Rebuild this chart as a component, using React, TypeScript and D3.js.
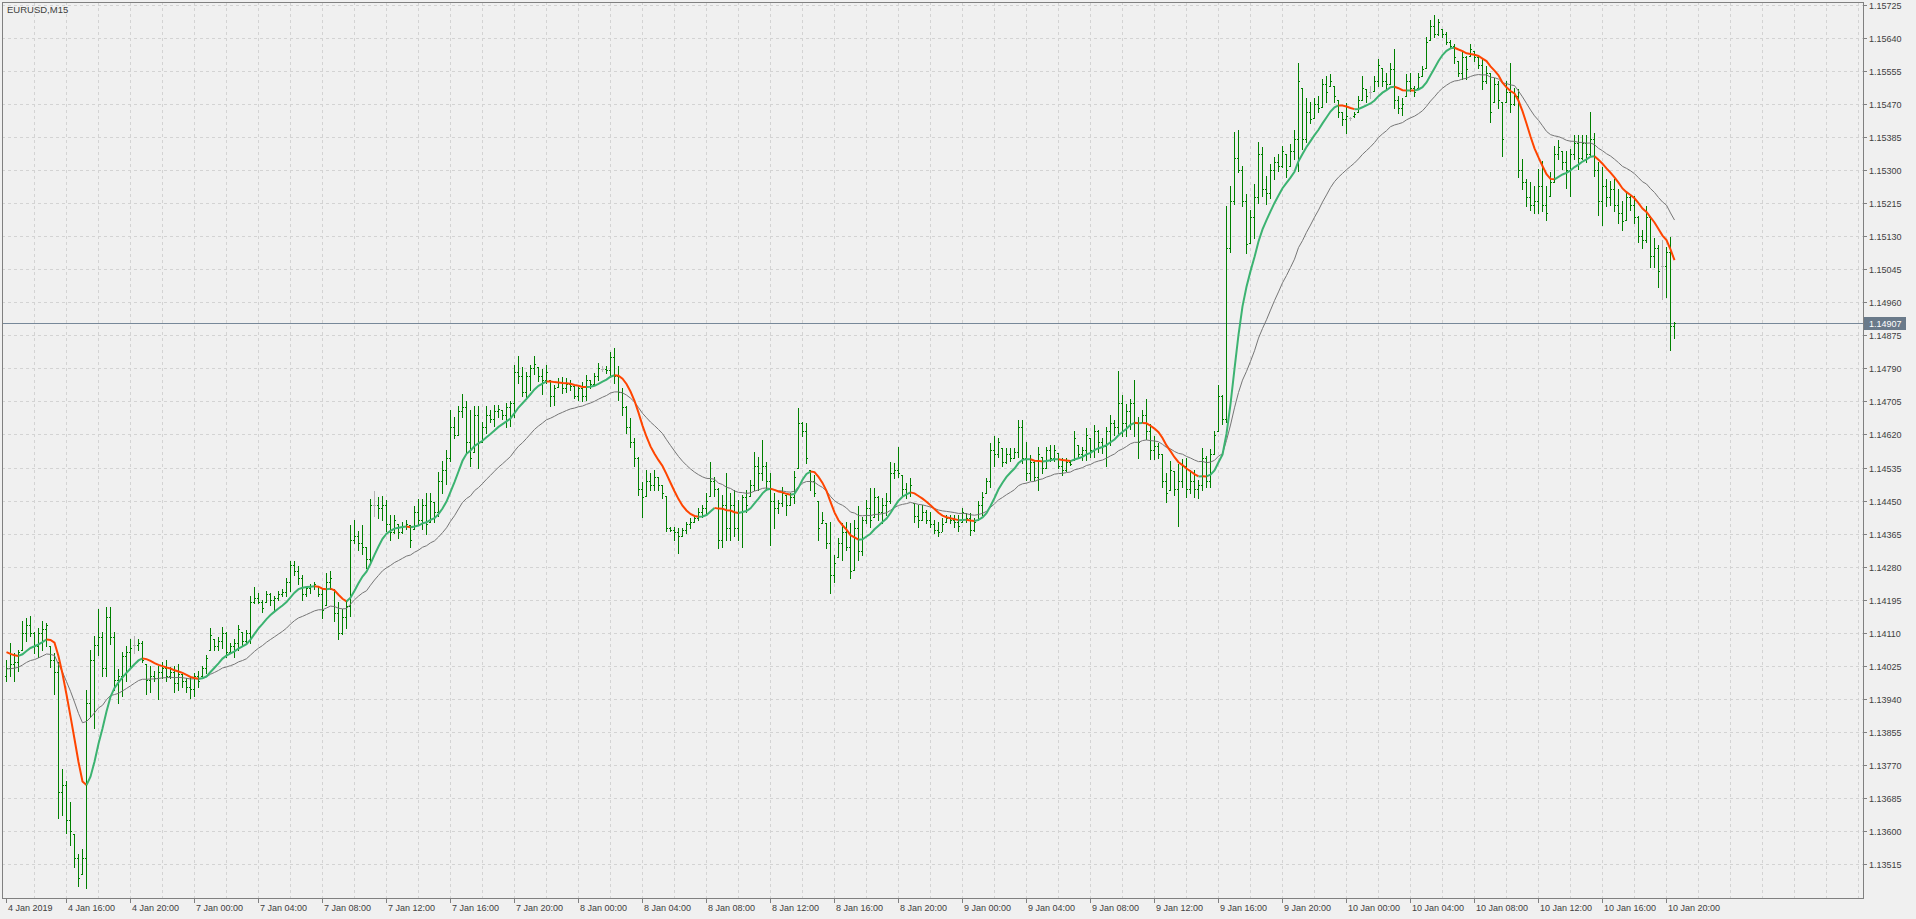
import React from 'react';
import * as d3 from 'd3';

const symbolTitle = 'EURUSD,M15';

// prices kept as 1e-5 steps above 1.00000 (14039 -> 1.14039), one entry per M15 bar
const opens = [
  14000,14020,14030,14035,14067,14110,14130,14110,14075,14110,
  14120,14076,14040,14010,13700,13720,13630,13592,13530,13491,
  13530,13930,14040,14080,14100,14020,14150,14100,13990,14000,
  14050,14060,14080,14080,14085,14030,13990,14000,13995,14010,
  14020,14000,14010,13980,14003,13985,13970,13965,14000,13998,
  14020,14067,14094,14075,14090,14110,14060,14075,14085,14113,
  14090,14110,14190,14200,14190,14190,14210,14195,14200,14210,
  14215,14240,14285,14270,14250,14210,14225,14230,14231,14210,
  14181,14240,14222,14160,14110,14150,14180,14350,14360,14340,
  14330,14300,14440,14440,14430,14440,14390,14370,14391,14370,
  14385,14387,14378,14420,14400,14440,14396,14446,14420,14500,
  14530,14560,14640,14620,14680,14690,14600,14574,14670,14602,
  14640,14670,14660,14680,14684,14670,14690,14700,14780,14770,
  14730,14770,14790,14793,14770,14760,14761,14720,14743,14755,
  14740,14750,14745,14720,14740,14720,14760,14750,14770,14788,
  14788,14785,14820,14770,14730,14690,14640,14600,14560,14480,
  14461,14500,14490,14510,14490,14461,14380,14375,14370,14360,
  14375,14390,14396,14405,14420,14430,14461,14500,14480,14350,
  14440,14380,14440,14380,14420,14460,14461,14490,14540,14520,
  14540,14500,14450,14430,14445,14465,14440,14460,14533,14650,
  14630,14529,14500,14448,14392,14392,14340,14260,14306,14340,
  14370,14330,14272,14380,14320,14400,14430,14409,14460,14420,
  14440,14450,14520,14530,14516,14480,14470,14443,14410,14400,
  14420,14400,14390,14375,14370,14396,14405,14400,14395,14396,
  14418,14405,14375,14401,14440,14469,14500,14580,14570,14585,
  14550,14570,14560,14575,14640,14560,14520,14550,14510,14563,
  14535,14580,14560,14572,14540,14530,14550,14555,14593,14570,
  14580,14610,14580,14630,14600,14590,14630,14650,14640,14700,
  14650,14680,14700,14650,14651,14670,14630,14580,14590,14569,
  14500,14478,14525,14480,14500,14540,14480,14500,14480,14490,
  14560,14500,14570,14630,14720,14660,15100,15220,15330,15300,
  15220,15112,15180,15230,15340,15250,15240,15300,15320,15310,
  15342,15311,15350,15380,15511,15380,15450,15433,15470,15463,
  15520,15516,15516,15481,15450,15430,15433,15440,15450,15481,
  15507,15500,15502,15530,15563,15530,15520,15560,15480,15460,
  15489,15530,15510,15511,15542,15563,15633,15670,15650,15663,
  15650,15630,15620,15581,15550,15590,15594,15607,15590,15570,
  15530,15550,15476,15520,15476,15476,15500,15470,15490,15300,
  15270,15230,15210,15220,15260,15210,15233,15270,15340,15350,
  15320,15300,15340,15370,15330,15370,15340,15380,15300,15220,
  15260,15230,15250,15210,15190,15172,15230,15210,15180,15130,
  15120,15180,15080,15100,15052,15052,15090,14900,
];
const highs = [
  14039,14085,14058,14067,14140,14149,14154,14113,14122,14140,
  14135,14076,14058,14035,13761,13729,13674,13592,13541,13555,
  13962,14067,14103,14172,14113,14177,14177,14113,14017,14062,
  14076,14094,14103,14094,14090,14030,14026,14012,14026,14035,
  14039,14021,14026,14030,14003,13994,13994,14007,14012,14026,
  14053,14122,14094,14099,14126,14113,14085,14094,14131,14113,
  14117,14204,14227,14213,14195,14218,14213,14204,14218,14222,
  14250,14295,14295,14282,14259,14231,14236,14240,14231,14222,
  14263,14268,14222,14190,14172,14195,14387,14400,14373,14387,
  14332,14455,14474,14460,14462,14451,14414,14414,14391,14396,
  14400,14387,14437,14455,14455,14469,14469,14446,14524,14551,
  14579,14684,14665,14693,14725,14707,14684,14693,14693,14652,
  14693,14684,14697,14697,14684,14702,14707,14798,14821,14793,
  14780,14798,14821,14793,14789,14798,14761,14748,14766,14769,
  14765,14760,14748,14748,14756,14773,14760,14778,14803,14795,
  14795,14833,14842,14795,14739,14692,14662,14610,14563,14499,
  14529,14520,14529,14512,14491,14461,14383,14383,14379,14379,
  14396,14405,14413,14431,14439,14469,14550,14512,14482,14465,
  14521,14469,14478,14452,14465,14478,14503,14576,14563,14606,
  14550,14521,14469,14452,14486,14465,14469,14525,14688,14653,
  14649,14529,14516,14448,14422,14392,14396,14311,14353,14392,
  14396,14392,14401,14435,14409,14452,14482,14482,14461,14456,
  14469,14550,14546,14589,14516,14495,14508,14443,14439,14439,
  14426,14422,14401,14396,14405,14413,14413,14413,14413,14431,
  14418,14418,14405,14448,14473,14508,14598,14615,14610,14585,
  14585,14585,14585,14658,14658,14602,14568,14555,14589,14563,
  14589,14593,14593,14572,14559,14559,14555,14628,14593,14589,
  14636,14610,14645,14632,14610,14640,14670,14658,14782,14721,
  14699,14712,14760,14664,14682,14712,14647,14617,14599,14569,
  14521,14551,14525,14543,14556,14560,14530,14530,14504,14586,
  14564,14582,14630,14747,14721,15207,15259,15398,15403,15311,
  15238,15198,15264,15372,15359,15285,15316,15333,15342,15363,
  15342,15368,15403,15576,15511,15485,15476,15485,15489,15533,
  15542,15546,15516,15481,15450,15472,15437,15450,15489,15542,
  15507,15516,15542,15585,15563,15550,15576,15611,15489,15485,
  15546,15550,15516,15550,15568,15641,15685,15698,15689,15663,
  15654,15633,15624,15581,15607,15594,15624,15607,15594,15585,
  15568,15550,15537,15529,15476,15529,15576,15511,15507,15329,
  15277,15268,15259,15303,15324,15259,15294,15363,15377,15350,
  15350,15355,15390,15390,15390,15390,15450,15394,15320,15307,
  15277,15272,15277,15251,15220,15246,15238,15233,15181,15146,
  15207,15181,15125,15107,15120,15103,15129,14908,
];
const lows = [
  13985,13998,13985,14012,14067,14090,14103,14058,14049,14067,
  14076,14021,13953,13633,13642,13596,13564,13509,13459,13491,
  13454,13893,13866,14053,13998,13998,14081,13962,13930,13948,
  13985,14021,14058,14067,14035,13953,13957,13985,13939,13994,
  13985,13994,13957,13962,13971,13957,13943,13948,13971,13998,
  14007,14067,14067,14067,14071,14049,14058,14049,14067,14076,
  14085,14085,14186,14186,14163,14190,14181,14167,14195,14204,
  14204,14218,14259,14236,14195,14204,14213,14222,14204,14149,
  14181,14222,14140,14094,14108,14122,14154,14341,14323,14314,
  14277,14286,14410,14405,14400,14373,14350,14368,14355,14368,
  14378,14332,14378,14387,14378,14364,14396,14396,14410,14469,
  14492,14551,14611,14620,14665,14570,14538,14574,14533,14602,
  14624,14652,14643,14665,14661,14638,14643,14665,14752,14720,
  14716,14734,14775,14757,14725,14752,14693,14697,14743,14726,
  14730,14735,14713,14709,14705,14709,14739,14748,14760,14782,
  14778,14769,14752,14709,14670,14623,14589,14538,14465,14409,
  14461,14478,14478,14478,14456,14371,14371,14349,14315,14358,
  14366,14379,14396,14401,14409,14418,14461,14461,14328,14332,
  14349,14349,14358,14349,14332,14422,14461,14478,14478,14503,
  14478,14336,14379,14418,14435,14413,14439,14443,14533,14615,
  14546,14478,14461,14349,14392,14328,14212,14242,14306,14298,
  14323,14251,14272,14298,14311,14392,14383,14409,14401,14392,
  14413,14443,14508,14512,14461,14456,14461,14396,14383,14401,
  14392,14383,14366,14358,14371,14396,14392,14383,14371,14396,
  14396,14362,14371,14401,14413,14469,14486,14538,14563,14538,
  14546,14551,14559,14563,14546,14503,14503,14503,14478,14521,
  14533,14551,14551,14533,14516,14525,14542,14555,14559,14555,
  14555,14563,14563,14576,14572,14538,14593,14619,14619,14617,
  14617,14634,14617,14560,14651,14608,14556,14556,14560,14486,
  14447,14478,14464,14384,14486,14460,14469,14460,14456,14478,
  14486,14486,14569,14630,14647,14651,15090,15212,15294,15207,
  15086,15112,15125,15216,15233,15212,15229,15277,15298,15307,
  15281,15311,15329,15298,15355,15372,15420,15433,15450,15463,
  15476,15516,15476,15437,15416,15394,15429,15437,15450,15481,
  15476,15485,15502,15516,15516,15507,15520,15459,15446,15442,
  15489,15502,15489,15511,15542,15563,15633,15641,15646,15641,
  15624,15615,15576,15542,15533,15533,15594,15581,15563,15507,
  15524,15424,15476,15459,15337,15476,15450,15468,15281,15251,
  15207,15198,15190,15190,15194,15172,15233,15268,15329,15303,
  15255,15233,15329,15303,15329,15320,15337,15285,15185,15159,
  15207,15211,15194,15164,15146,15172,15198,15164,15116,15099,
  15116,15051,15051,14999,14968,14973,14838,14869,
];
const closes = [
  14020,14030,14035,14060,14110,14130,14110,14075,14110,14120,
  14130,14040,14010,13700,13720,13630,13600,13530,13480,13530,
  13930,14040,14080,14100,14020,14150,14100,13990,14000,14050,
  14060,14070,14080,14085,14040,13990,14000,13995,14010,14020,
  14000,14010,13980,14005,13985,13970,13965,14000,13985,14020,
  14045,14105,14075,14090,14110,14060,14075,14085,14120,14090,
  14110,14190,14200,14190,14175,14210,14195,14200,14210,14215,
  14240,14285,14270,14250,14210,14225,14230,14235,14210,14170,
  14240,14250,14160,14110,14150,14180,14350,14360,14340,14330,
  14300,14440,14440,14430,14440,14390,14370,14400,14370,14385,
  14390,14350,14420,14400,14440,14390,14450,14420,14500,14530,
  14560,14640,14620,14680,14690,14600,14560,14670,14600,14640,
  14670,14660,14680,14685,14670,14690,14700,14780,14770,14730,
  14770,14790,14800,14770,14760,14780,14720,14740,14755,14740,
  14750,14745,14720,14740,14720,14760,14750,14770,14790,14788,
  14785,14820,14770,14730,14690,14640,14600,14560,14480,14460,
  14500,14490,14510,14490,14470,14380,14375,14370,14360,14375,
  14390,14395,14405,14420,14430,14450,14500,14480,14350,14440,
  14380,14440,14380,14420,14460,14440,14490,14540,14520,14540,
  14500,14450,14430,14445,14470,14440,14460,14510,14650,14630,
  14560,14500,14470,14380,14400,14340,14260,14290,14340,14370,
  14330,14270,14380,14320,14400,14430,14400,14460,14420,14440,
  14450,14520,14530,14520,14480,14470,14490,14410,14400,14420,
  14400,14390,14375,14370,14390,14405,14400,14395,14385,14420,
  14405,14375,14395,14440,14460,14500,14580,14570,14600,14550,
  14570,14560,14575,14640,14560,14520,14550,14510,14570,14535,
  14580,14560,14580,14540,14530,14550,14545,14610,14570,14580,
  14620,14580,14630,14600,14590,14630,14650,14640,14700,14650,
  14680,14700,14650,14600,14670,14630,14580,14590,14570,14500,
  14470,14530,14480,14500,14540,14480,14500,14480,14490,14560,
  14500,14570,14620,14720,14660,15100,15220,15330,15300,15220,
  15110,15180,15230,15340,15250,15240,15300,15320,15310,15350,
  15300,15350,15380,15530,15380,15450,15430,15470,15460,15520,
  15500,15530,15490,15450,15430,15440,15433,15445,15480,15510,
  15490,15500,15530,15570,15530,15520,15560,15480,15460,15470,
  15530,15510,15500,15540,15560,15630,15670,15650,15680,15650,
  15630,15620,15590,15550,15590,15560,15610,15590,15570,15530,
  15550,15450,15520,15480,15380,15500,15470,15490,15300,15270,
  15230,15210,15220,15260,15210,15190,15270,15340,15360,15320,
  15300,15340,15370,15330,15370,15340,15380,15300,15220,15260,
  15230,15250,15210,15190,15170,15230,15210,15180,15130,15120,
  15180,15080,15100,15040,15052,15090,14900,14907,
];

const priceTicks = [
  1.15725, 1.1564, 1.15555, 1.1547, 1.15385, 1.153, 1.15215, 1.1513, 1.15045,
  1.1496, 1.14875, 1.1479, 1.14705, 1.1462, 1.14535, 1.1445, 1.14365, 1.1428,
  1.14195, 1.1411, 1.14025, 1.1394, 1.13855, 1.1377, 1.13685, 1.136, 1.13515,
];
const timeLabels = [
  '4 Jan 2019', '4 Jan 16:00', '4 Jan 20:00', '7 Jan 00:00', '7 Jan 04:00',
  '7 Jan 08:00', '7 Jan 12:00', '7 Jan 16:00', '7 Jan 20:00', '8 Jan 00:00',
  '8 Jan 04:00', '8 Jan 08:00', '8 Jan 12:00', '8 Jan 16:00', '8 Jan 20:00',
  '9 Jan 00:00', '9 Jan 04:00', '9 Jan 08:00', '9 Jan 12:00', '9 Jan 16:00',
  '9 Jan 20:00', '10 Jan 00:00', '10 Jan 04:00', '10 Jan 08:00', '10 Jan 12:00',
  '10 Jan 16:00', '10 Jan 20:00',
];
const timeLabelBars = [
  0, 15, 31, 47, 63, 79, 95, 111, 127, 143, 159, 175, 191, 207, 223, 239, 255,
  271, 287, 303, 319, 335, 351, 367, 383, 399, 415,
];
const lastPrice = 1.14907;
// indicator values at the first visible bar (history before it is off screen)
const fastStart = 1.14064;
const slowStart = 1.14017;

const W = 1916;
const H = 919;
const left = 2;
const top = 2;
const right = 1863;
const bottom = 898;

const FONT = "'Liberation Sans', Arial, sans-serif";

const toPrice = (v: number) => 1 + v / 100000;

function ema(src: number[], period: number, seed: number) {
  const k = 2 / (period + 1);
  let e = seed;
  return src.map((v) => (e = e + k * (v - e)));
}

export default function App() {
  const n = closes.length;
  const x = d3.scaleLinear().domain([0, n - 1]).range([6, 6 + 4 * (n - 1)]);
  const y = d3.scaleLinear().domain([1.15725, 1.13515]).range([4.7, 864.3]);
  const py = (p: number) => Math.round(y(p));

  const c = closes.map(toPrice);
  const fast = ema(ema(c, 6, fastStart), 6, fastStart);
  const slow = ema(c, 30, slowStart);

  // split the fast line into runs by slope direction
  const runs: { up: boolean; pts: [number, number][] }[] = [];
  for (let i = 1; i < n; i++) {
    const up = fast[i] >= fast[i - 1];
    const last = runs[runs.length - 1];
    if (last && last.up === up) last.pts.push([x(i), y(fast[i])]);
    else runs.push({ up, pts: [[x(i - 1), y(fast[i - 1])], [x(i), y(fast[i])]] });
  }
  const line = d3.line<[number, number]>().x((d) => d[0] + 0.5).y((d) => d[1]);
  const slowLine = d3
    .line<number>()
    .x((_, i) => x(i) + 0.5)
    .y((d) => y(d));

  const vGrid: number[] = [];
  for (let i = 7; x(i) < right; i += 8) vGrid.push(x(i) + 0.5);

  const lastY = py(lastPrice);

  return (
    <svg
      width={W}
      height={H}
      style={{ position: 'absolute', left: 0, top: 0, background: '#f0f0f0' }}
      fontFamily={FONT}
    >
      <rect x={0} y={0} width={W} height={H} fill="#f0f0f0" />
      <g stroke="#d3d3d3" strokeDasharray="3,3" shapeRendering="crispEdges">
        {priceTicks.map((p) => (
          <line key={p} x1={left} x2={right} y1={py(p) + 0.5} y2={py(p) + 0.5} />
        ))}
        {vGrid.map((gx) => (
          <line key={gx} x1={gx} x2={gx} y1={top} y2={bottom} />
        ))}
      </g>

      <line
        x1={left}
        x2={right}
        y1={lastY + 0.5}
        y2={lastY + 0.5}
        stroke="#778899"
        shapeRendering="crispEdges"
      />

      <g shapeRendering="crispEdges">
        {closes.map((cl, i) => {
          const col = x(i);
          const yh = py(toPrice(highs[i]));
          const yl = py(toPrice(lows[i]));
          const fill = opens[i] === cl ? '#b4b4b4' : '#008000';
          return (
            <g key={i} fill={fill}>
              <rect x={col} y={yh} width={1} height={yl - yh + 1} />
              <rect x={col - 1} y={py(toPrice(opens[i]))} width={1} height={1} />
              <rect x={col + 1} y={py(toPrice(cl))} width={1} height={1} />
            </g>
          );
        })}
      </g>

      <path d={slowLine(slow) ?? ''} fill="none" stroke="#767676" strokeWidth={1} />
      {runs.map((r, k) => (
        <path
          key={k}
          d={line(r.pts) ?? ''}
          fill="none"
          stroke={r.up ? '#3cb371' : '#ff4500'}
          strokeWidth={2}
        />
      ))}

      <g fill="none" stroke="#808080" shapeRendering="crispEdges">
        <line x1={left + 0.5} x2={left + 0.5} y1={top} y2={bottom} />
        <line x1={left} x2={right} y1={top + 0.5} y2={top + 0.5} />
        <line x1={right + 0.5} x2={right + 0.5} y1={top} y2={bottom + 1} />
        <line x1={left} x2={right + 1} y1={bottom + 0.5} y2={bottom + 0.5} />
      </g>

      <text x={7} y={13} fontSize={9.5} fill="#404040">
        {symbolTitle}
      </text>

      <g fontSize={9} fill="#404040">
        {priceTicks.map((p) => (
          <g key={p}>
            <line
              x1={right}
              x2={right + 4}
              y1={py(p) + 0.5}
              y2={py(p) + 0.5}
              stroke="#808080"
              shapeRendering="crispEdges"
            />
            <text x={right + 6} y={py(p) + 3.5}>
              {p.toFixed(5)}
            </text>
          </g>
        ))}
      </g>

      <rect x={right + 1} y={lastY - 6} width={42} height={13} fill="#6a7a8a" />
      <text x={right + 6} y={lastY + 3.5} fontSize={9} fill="#ffffff">
        {lastPrice.toFixed(5)}
      </text>

      <g fontSize={9} fill="#404040">
        {timeLabels.map((t, k) => {
          const bx = x(timeLabelBars[k]);
          return (
            <g key={t}>
              <line
                x1={bx + 0.5}
                x2={bx + 0.5}
                y1={bottom}
                y2={bottom + 5}
                stroke="#808080"
                shapeRendering="crispEdges"
              />
              <text x={bx + 2} y={bottom + 13}>
                {t}
              </text>
            </g>
          );
        })}
      </g>
    </svg>
  );
}
